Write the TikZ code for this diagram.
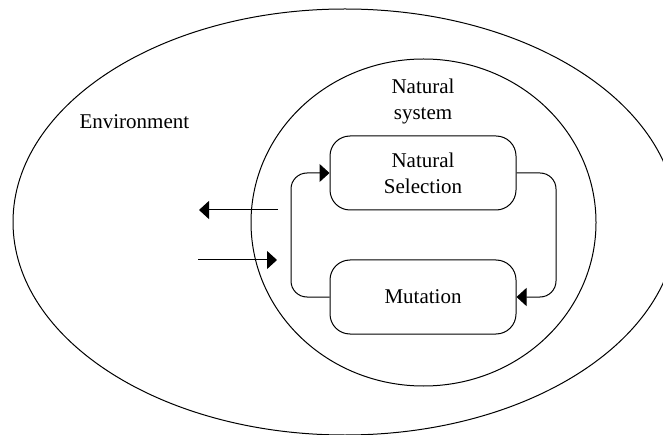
\documentclass[tikz,border=0pt]{standalone}
\usepackage{fontspec}
\setmainfont{Liberation Serif}
\usetikzlibrary{arrows.meta,shapes.geometric}
\begin{document}
\begin{tikzpicture}[x=1pt,y=-1pt,
  line width=1pt,
  font=\fontsize{21}{26}\selectfont,
  arr/.style={-{Triangle[length=10pt,width=18pt]}},
  loopline/.style={arr,rounded corners=16pt},
  procbox/.style={draw,rounded corners=20pt,minimum width=186pt,minimum height=74pt,align=center,inner sep=0pt},
  lbl/.style={inner sep=0pt,align=center}]
\useasboundingbox (0,0) rectangle (663,435);
% environment and natural system
\node[draw,ellipse,minimum width=664pt,minimum height=426pt,inner sep=0pt] (env) at (345,222) {};
\node[draw,ellipse,minimum width=345pt,minimum height=327pt,inner sep=0pt] (nat) at (423.5,222.5) {};
\node[lbl,anchor=base west] (envlbl) at (79,129) {Environment};
\node[lbl] (natlbl) at (423,101) {Natural\\system};
% the two processes
\node[procbox] (sel) at (423,173) {Natural\\Selection};
\node[procbox] (mut) at (423,297) {Mutation};
% feedback loops between them
\coordinate (lc) at (291,297);
\coordinate (rc) at (556,173);
\draw[loopline] (mut.west) -- (lc) |- (sel.west);
\draw[loopline] (sel.east) -- (rc) |- (mut.east);
% exchange with the environment
\coordinate (outs) at (278,210);
\coordinate (oute) at (199,210);
\coordinate (ins) at (198,260);
\coordinate (ine) at (277,260);
\draw[arr] (outs) -- (oute);
\draw[arr] (ins) -- (ine);
\end{tikzpicture}
\end{document}
